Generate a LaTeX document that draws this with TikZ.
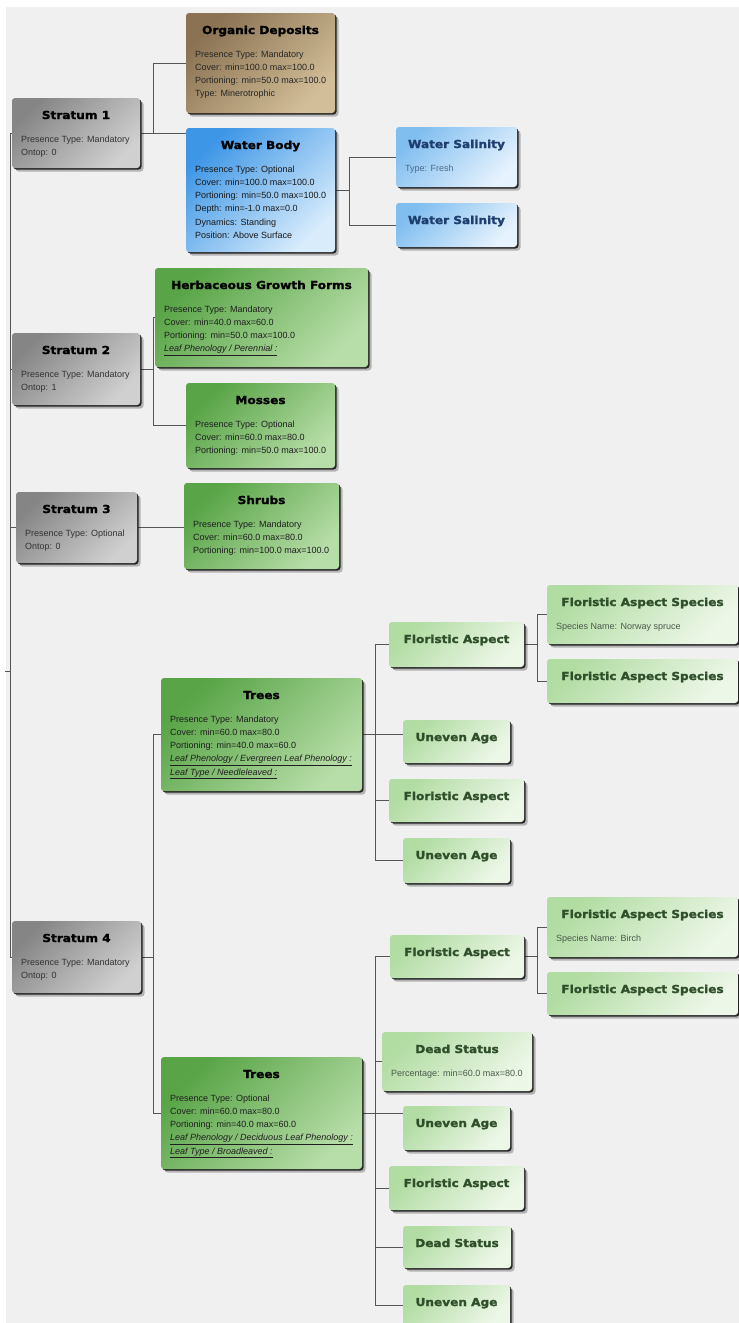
\documentclass[tikz,border=0pt]{standalone}
\usepackage{fontspec}
\setmainfont{Liberation Sans}
\newfontfamily\ttlfont[FakeStretch=1.1,FakeBold=1.6]{DejaVu Sans Bold}
\usetikzlibrary{shadows,backgrounds}
\definecolor{bgc}{HTML}{F0F0F0}
\definecolor{lnc}{HTML}{555555}
\definecolor{strA}{HTML}{858585}\definecolor{strB}{HTML}{D0D0D0}
\definecolor{brnA}{HTML}{8A7252}\definecolor{brnB}{HTML}{D2BE98}
\definecolor{watA}{HTML}{3D96E6}\definecolor{watB}{HTML}{D8ECFC}
\definecolor{salA}{HTML}{80BEF0}\definecolor{salB}{HTML}{E6F2FD}
\definecolor{grnA}{HTML}{58A446}\definecolor{grnB}{HTML}{B7DDA8}
\definecolor{lgrA}{HTML}{B1DCA2}\definecolor{lgrB}{HTML}{EDF7E8}
\definecolor{salT}{HTML}{1E3E6E}\definecolor{salX}{HTML}{4A6A8A}
\definecolor{lgrT}{HTML}{2F4F2A}\definecolor{lgrX}{HTML}{4A5A4A}
\tikzset{
  conn/.style={draw=lnc, line width=0.9pt},
  card/.style={rounded corners=3pt, inner sep=0pt, outer sep=0pt, anchor=north west,
    drop shadow={shadow xshift=3.5pt, shadow yshift=-3.5pt, opacity=0.25, fill=black},
    general shadow={shadow xshift=1.5pt, shadow yshift=-1.5pt, fill=black!85}},
  ttl/.style={font=\ttlfont\fontsize{11}{13}\selectfont, anchor=base, inner sep=0pt},
  bdy/.style={font=\fontsize{9}{13.3}\selectfont, anchor=base west, inner sep=0pt},
  strat/.style={card, top color=strA, bottom color=strB, shading angle=45},
  strat-t/.style={ttl, text=black},
  strat-b/.style={bdy, text=black!80},
  brn/.style={card, top color=brnA, bottom color=brnB, shading angle=45},
  brn-t/.style={ttl, text=black},
  brn-b/.style={bdy, text=black!85},
  wat/.style={card, top color=watA, bottom color=watB, shading angle=45},
  wat-t/.style={ttl, text=black},
  wat-b/.style={bdy, text=black!90},
  sal/.style={card, top color=salA, bottom color=salB, shading angle=45},
  sal-t/.style={ttl, text=salT},
  sal-b/.style={bdy, text=salX},
  grn/.style={card, top color=grnA, bottom color=grnB, shading angle=45},
  grn-t/.style={ttl, text=black},
  grn-b/.style={bdy, text=black!88},
  lgr/.style={card, top color=lgrA, bottom color=lgrB, shading angle=45},
  lgr-t/.style={ttl, text=lgrT},
  lgr-b/.style={bdy, text=lgrX},
}
\newcommand\card[8]{%
  \node[#2, minimum width={(#5-#3)*1pt}, minimum height={(#6-#4)*1pt}] (#1) at (#3,#4) {};
  \node[#2-t] (#1-t) at ([yshift=-21pt]#1.north) {#7};
  \node[#2-b] (#1-b) at ([xshift=9pt,yshift=-44pt]#1.north west) {\begin{tabular}[t]{@{}l@{}}#8\end{tabular}};
}
\newcommand\cardt[7]{%
  \node[#2, minimum width={(#5-#3)*1pt}, minimum height={(#6-#4)*1pt}] (#1) at (#3,#4) {};
  \node[#2-t] (#1-t) at ([yshift=-21pt]#1.north) {#7};
}
\begin{document}
\begin{tikzpicture}[x=1pt,y=-1pt]
\useasboundingbox (0,0) rectangle (739,1323);
% strata
\card{s1}{strat}{12}{98}{140}{168}{Stratum 1}{Presence Type: Mandatory\\Ontop: 0}
\card{s2}{strat}{12}{333}{140}{405}{Stratum 2}{Presence Type: Mandatory\\Ontop: 1}
\card{s3}{strat}{16}{492}{137}{563}{Stratum 3}{Presence Type: Optional\\Ontop: 0}
\card{s4}{strat}{12}{921}{141}{993}{Stratum 4}{Presence Type: Mandatory\\Ontop: 0}
% stratum 1 children
\card{od}{brn}{186}{13}{335}{113}{Organic Deposits}{Presence Type: Mandatory\\Cover: min=100.0 max=100.0\\Portioning: min=50.0 max=100.0\\Type: Minerotrophic}
\card{wb}{wat}{186}{128}{335}{252}{Water Body}{Presence Type: Optional\\Cover: min=100.0 max=100.0\\Portioning: min=50.0 max=100.0\\Depth: min=-1.0 max=0.0\\Dynamics: Standing\\Position: Above Surface}
\card{ws1}{sal}{396}{127}{517}{187}{Water Salinity}{Type: Fresh}
\cardt{ws2}{sal}{396}{203}{517}{247}{Water Salinity}
% stratum 2 and 3 children
\card{hg}{grn}{155}{268}{368}{367}{Herbaceous Growth Forms}{Presence Type: Mandatory\\Cover: min=40.0 max=60.0\\Portioning: min=50.0 max=100.0\\\underline{\textit{Leaf Phenology / Perennial :}}}
\card{mo}{grn}{186}{383}{335}{468}{Mosses}{Presence Type: Optional\\Cover: min=60.0 max=80.0\\Portioning: min=50.0 max=100.0}
\card{sh}{grn}{184}{483}{339}{569}{Shrubs}{Presence Type: Mandatory\\Cover: min=60.0 max=80.0\\Portioning: min=100.0 max=100.0}
% stratum 4, first trees
\card{t1}{grn}{161}{678}{362}{791}{Trees}{Presence Type: Mandatory\\Cover: min=60.0 max=80.0\\Portioning: min=40.0 max=60.0\\\underline{\textit{Leaf Phenology / Evergreen Leaf Phenology :}}\\\underline{\textit{Leaf Type / Needleleaved :}}}
\cardt{fa1}{lgr}{389}{622}{524}{667}{Floristic Aspect}
\card{fas1}{lgr}{547}{585}{738}{644}{Floristic Aspect Species}{Species Name: Norway spruce}
\cardt{fas2}{lgr}{547}{659}{738}{703}{Floristic Aspect Species}
\cardt{ua1}{lgr}{403}{720}{510}{763}{Uneven Age}
\cardt{fa2}{lgr}{389}{779}{524}{822}{Floristic Aspect}
\cardt{ua2}{lgr}{403}{838}{510}{883}{Uneven Age}
% second trees
\card{t2}{grn}{161}{1057}{362}{1169}{Trees}{Presence Type: Optional\\Cover: min=60.0 max=80.0\\Portioning: min=40.0 max=60.0\\\underline{\textit{Leaf Phenology / Deciduous Leaf Phenology :}}\\\underline{\textit{Leaf Type / Broadleaved :}}}
\cardt{fa3}{lgr}{390}{935}{524}{978}{Floristic Aspect}
\card{fas3}{lgr}{547}{897}{738}{957}{Floristic Aspect Species}{Species Name: Birch}
\cardt{fas4}{lgr}{547}{972}{738}{1015}{Floristic Aspect Species}
\card{ds1}{lgr}{382}{1032}{532}{1091}{Dead Status}{Percentage: min=60.0 max=80.0}
\cardt{ua3}{lgr}{403}{1106}{510}{1150}{Uneven Age}
\cardt{fa4}{lgr}{389}{1166}{524}{1210}{Floristic Aspect}
\cardt{ds2}{lgr}{403}{1226}{511}{1268}{Dead Status}
\cardt{ua4}{lgr}{403}{1285}{510}{1326}{Uneven Age}
% junction columns
\coordinate (mx) at (10,0);
\coordinate (j1) at (153,0);
\coordinate (j2) at (349,0);
\coordinate (j3) at (375,0);
\coordinate (j4) at (537,0);
\coordinate (root) at (5,671);
\begin{scope}[on background layer]
\fill[white] (0,0) rectangle (739,1323);
\fill[bgc] (6,7) rectangle (739,1323);
% root
\draw[conn] (s1.west) -- (s1.west -| mx) -- (s4.west -| mx) -- (s4.west);
\draw[conn] (s2.west) -- (s2.west -| mx);
\draw[conn] (s3.west) -- (s3.west -| mx);
\draw[conn] (root) -- (root -| mx);
% stratum 1
\draw[conn] (od.west) -- (od.west -| j1) -- (s1.east -| j1);
\draw[conn] (s1.east) -- (wb.west |- s1.east);
\draw[conn] (wb.east) -- (wb.east -| j2);
\draw[conn] (ws1.west) -- (ws1.west -| j2) -- (ws2.west -| j2) -- (ws2.west);
% stratum 2
\draw[conn] (s2.east) -- (s2.east -| j1);
\draw[conn] (hg.west) -- (hg.west -| j1) -- (mo.west -| j1) -- (mo.west);
% stratum 3
\draw[conn] (s3.east) -- (sh.west |- s3.east);
% stratum 4
\draw[conn] (s4.east) -- (s4.east -| j1);
\draw[conn] (t1.west) -- (t1.west -| j1) -- (t2.west -| j1) -- (t2.west);
% trees 1
\draw[conn] (t1.east) -- (ua1.west |- t1.east);
\draw[conn] (fa1.west) -- (fa1.west -| j3) -- (ua2.west -| j3) -- (ua2.west);
\draw[conn] (fa2.west) -- (fa2.west -| j3);
\draw[conn] (fa1.east) -- (fa1.east -| j4);
\draw[conn] (fas1.west) -- (fas1.west -| j4) -- (fas2.west -| j4) -- (fas2.west);
% trees 2
\draw[conn] (t2.east) -- (ua3.west |- t2.east);
\draw[conn] (fa3.west) -- (fa3.west -| j3) -- (ua4.west -| j3) -- (ua4.west);
\draw[conn] (ds1.west) -- (ds1.west -| j3);
\draw[conn] (fa4.west) -- (fa4.west -| j3);
\draw[conn] (ds2.west) -- (ds2.west -| j3);
\draw[conn] (fa3.east) -- (fa3.east -| j4);
\draw[conn] (fas3.west) -- (fas3.west -| j4) -- (fas4.west -| j4) -- (fas4.west);
\end{scope}
\end{tikzpicture}
\end{document}
